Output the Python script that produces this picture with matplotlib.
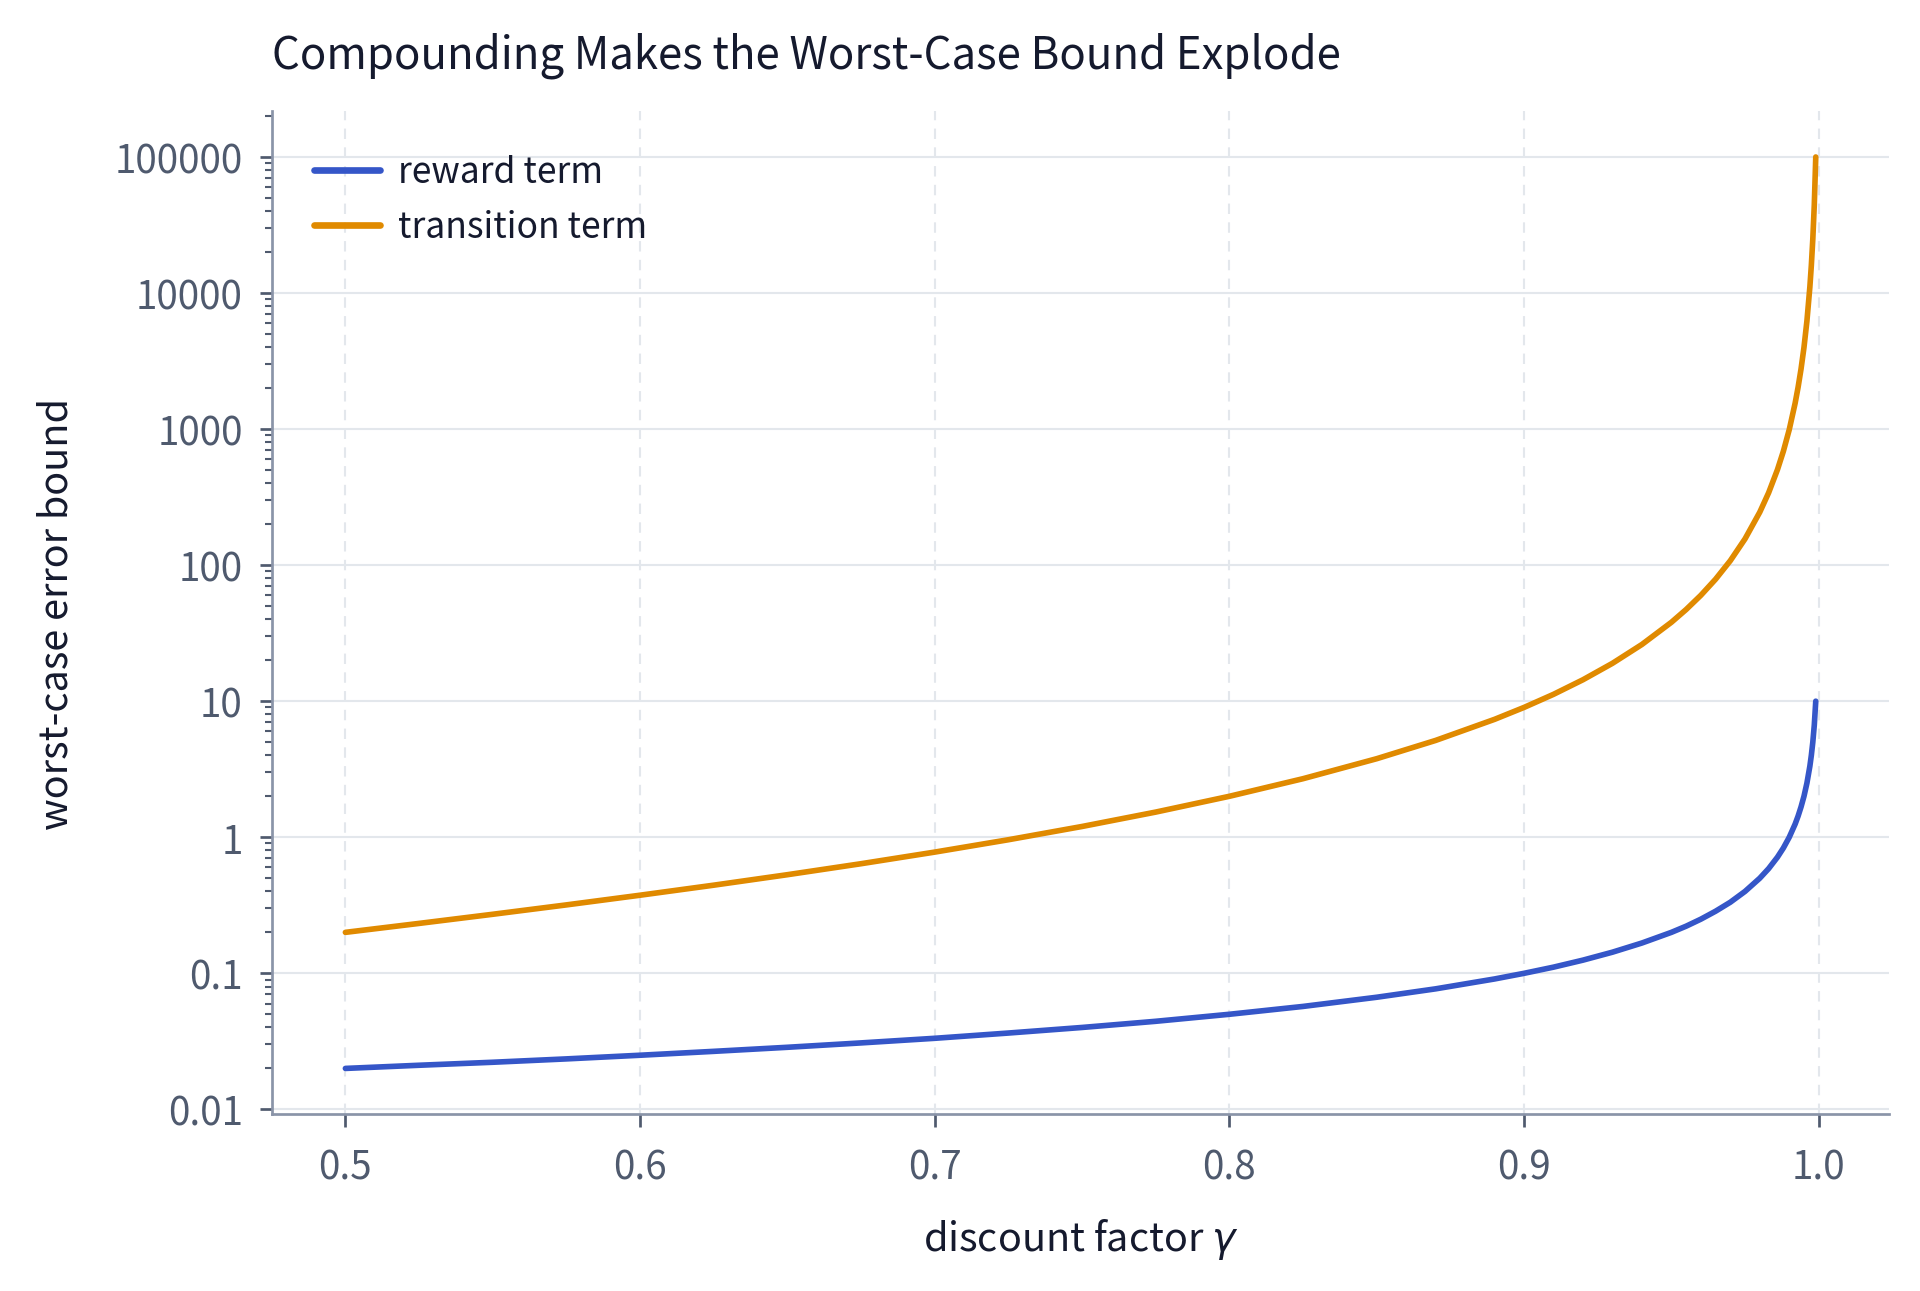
import matplotlib
matplotlib.use("Agg")
import matplotlib.pyplot as plt
from matplotlib.ticker import FuncFormatter, LogLocator, FixedLocator

plt.rcParams['font.family'] = ['Noto Sans CJK KR', 'DejaVu Sans']
plt.rcParams['mathtext.fontset'] = 'dejavusans'

# values (denser near gamma -> 1 where the curves bend)
gamma = [0.5, 0.525, 0.55, 0.575, 0.6, 0.625, 0.65, 0.675, 0.7, 0.725, 0.75,
         0.775, 0.8, 0.825, 0.85, 0.87, 0.89, 0.9, 0.91, 0.92, 0.93, 0.94,
         0.95, 0.955, 0.96, 0.965, 0.97, 0.975, 0.98, 0.983, 0.986, 0.988,
         0.99, 0.992, 0.993, 0.994, 0.995, 0.996, 0.997, 0.9975, 0.998,
         0.9985, 0.999]
reward_term = [0.02, 0.0211, 0.0222, 0.0235, 0.025, 0.0267, 0.0286, 0.0308,
               0.0333, 0.0364, 0.04, 0.0444, 0.05, 0.0571, 0.0667, 0.0769,
               0.0909, 0.1, 0.111, 0.125, 0.143, 0.167, 0.2, 0.222, 0.25,
               0.286, 0.333, 0.4, 0.5, 0.588, 0.714, 0.833, 1.0, 1.25, 1.43,
               1.67, 2.0, 2.5, 3.33, 4.0, 5.0, 6.67, 10.0]
transition_term = [0.2, 0.2327, 0.2716, 0.3183, 0.375, 0.4444, 0.5306, 0.639,
                   0.7778, 0.9587, 1.2, 1.531, 2.0, 2.694, 3.778, 5.148, 7.355,
                   9.0, 11.23, 14.375, 18.98, 26.11, 38.0, 47.16, 60.0, 78.78,
                   107.8, 156.0, 245.0, 340.1, 503.1, 686.1, 990.0, 1550.0,
                   2026.5, 2761.0, 3980.0, 6225.0, 11078.0, 15960.0, 24950.0,
                   44378.0, 99900.0]
x_ticks = [0.5, 0.6, 0.7, 0.8, 0.9, 1.0]
y_ticks = [0.01, 0.1, 1, 10, 100, 1000, 10000, 100000]

spine_col = '#8a94a8'
tick_col = '#4f5a6e'
text_col = '#151a2e'

fig = plt.figure(figsize=(12.8, 8.6133), dpi=150)
ax = fig.add_axes([0.1416, 0.137, 0.8424, 0.776])

ax.plot(gamma, reward_term, color='#3556c8', lw=2.7, label='reward term',
        solid_capstyle='round')
ax.plot(gamma, transition_term, color='#e08a00', lw=2.7, label='transition term',
        solid_capstyle='round')

ax.set_yscale('log')
ax.yaxis.set_major_locator(FixedLocator(y_ticks))
ax.yaxis.set_minor_locator(LogLocator(base=10, subs=range(2, 10), numticks=20))
ax.yaxis.set_major_formatter(FuncFormatter(lambda v, p: '{:g}'.format(v)))
ax.set_xticks(x_ticks)
ax.xaxis.set_major_formatter(FuncFormatter(lambda v, p: '{:.1f}'.format(v)))

ax.grid(axis='y', which='major', color='#e3e7ec', lw=1.0, ls='-')
ax.grid(axis='x', which='major', color='#e3e7ec', lw=1.0, ls=(0, (5, 4)))
ax.set_axisbelow(True)

for s in ['top', 'right']:
    ax.spines[s].set_visible(False)
for s in ['left', 'bottom']:
    ax.spines[s].set_color(spine_col)
    ax.spines[s].set_linewidth(1.3)

ax.tick_params(axis='both', which='major', colors=tick_col, labelsize=18.5,
               length=6, width=1.3)
ax.tick_params(axis='x', which='major', pad=10)
ax.tick_params(axis='y', which='major', pad=8)
ax.tick_params(axis='y', which='minor', colors=tick_col, length=3.5, width=1.0)

ax.set_xlabel(r'discount factor $\gamma$', fontsize=19, color=text_col, labelpad=14)
ax.set_ylabel('worst-case error bound', fontsize=19, color=text_col, labelpad=18)
ax.set_title('Compounding Makes the Worst-Case Bound Explode', loc='left',
             fontsize=21, color=text_col, pad=21)

leg = ax.legend(loc='upper left', frameon=False, fontsize=17, handlelength=1.85,
                handletextpad=0.5, borderaxespad=0.8, labelspacing=0.55)
for t in leg.get_texts():
    t.set_color(text_col)
for h in leg.get_lines():
    h.set_linewidth(3.2)

fig.savefig('out.png', dpi=150, facecolor='white')
